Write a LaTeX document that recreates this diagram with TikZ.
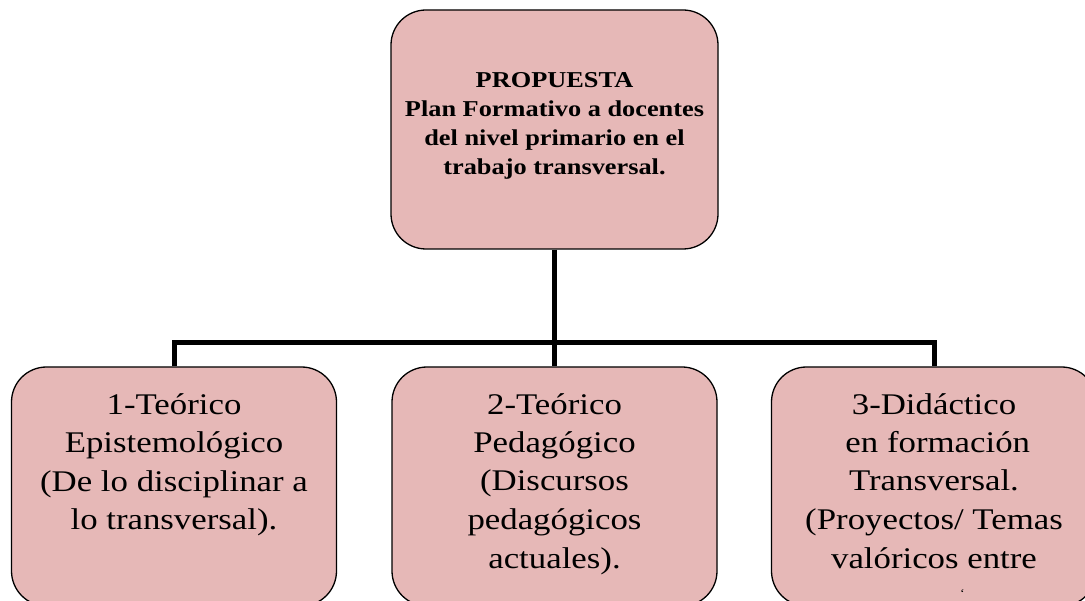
\documentclass[tikz,border=0pt]{standalone}
\usepackage{fontspec}
\setmainfont[FakeStretch=1.16]{Liberation Serif}
\definecolor{boxpink}{HTML}{E6B8B7}
\begin{document}
\begin{tikzpicture}[x=1pt,y=-1pt,
  box/.style={draw=black, line width=1.3pt, fill=boxpink, rounded corners=35pt,
    minimum width=325pt, minimum height=239pt, inner sep=0pt},
  conn/.style={draw=black, line width=5pt},
  toptext/.style={align=center, inner sep=0pt, anchor=base, font=\fontsize{22.7}{29}\selectfont\bfseries},
  subtext/.style={align=center, inner sep=0pt, anchor=base, font=\fontsize{30}{38.5}\selectfont}]
\useasboundingbox (0,0) rectangle (1085,601);
\clip (0,0) rectangle (1085,601);
\fill[white] (0,0) rectangle (1085,601);
% boxes
\node[box, minimum width=327pt] (top) at (554.5,129.5) {};
\node[box] (b1) at (174,486.5) {};
\node[box] (b2) at (554.5,486.5) {};
\node[box] (b3) at (934,486.5) {};
% connectors
\draw[conn] (top.south) -- (b2.north);
\draw[conn] (b1.north) -- ++(0,-24) -| (b3.north);
% texts (anchor = baseline of last line)
\node[toptext] (ttop) at (554.5,175) {PROPUESTA\\Plan Formativo a docentes\\del nivel primario en el\\trabajo transversal.};
\node[subtext] (t1) at (174,529.5) {1-Teórico\\Epistemológico\\(De lo disciplinar a\\lo transversal).};
\node[subtext] (t2) at (554.5,568) {2-Teórico\\Pedagógico\\(Discursos\\pedagógicos\\actuales).};
\node[subtext] (t3) at (934,568) {3-Didáctico\\\hspace*{7.5pt}en formación\\Transversal.\\(Proyectos/ Temas\\valóricos entre};
\node[inner sep=0pt, anchor=north, font=\fontsize{12}{12}\selectfont] (tick) at (962.5,589) {\symbol{96}};
\end{tikzpicture}
\end{document}
